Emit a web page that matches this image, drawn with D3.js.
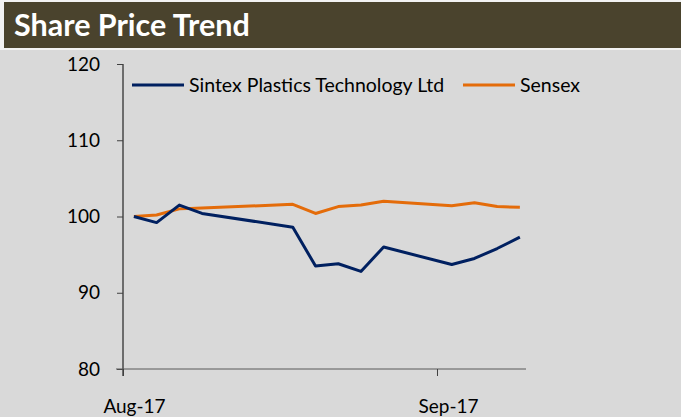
<!DOCTYPE html>
<html>
<head>
<meta charset="utf-8">
<script src="https://cdn.jsdelivr.net/npm/d3@7"></script>
<style>
  body { margin: 0; background: #d9d9d9; }
  svg { display: block; font-family: Lato, "Open Sans", sans-serif; }
</style>
</head>
<body>
<div id="chart"></div>
<script>
// chart data
const sessions = [0, 1, 2, 3, 7, 8, 9, 10, 11, 14, 15, 16, 17];
const sintex = [100, 99.2, 101.5, 100.4, 98.6, 93.5, 93.8, 92.8, 96.0, 93.7, 94.5, 95.8, 97.3];
const sensex = [100, 100.2, 101.0, 101.1, 101.6, 100.4, 101.3, 101.5, 102.0, 101.4, 101.8, 101.3, 101.2];
const seriesNames = ["Sintex Plastics Technology Ltd", "Sensex"];
const yTicks = [80, 90, 100, 110, 120];
const xTickPos = [-0.48, 13.35];
const xTickLabels = ["Aug-17", "Sep-17"];

(function() {
  const W = 681, H = 417;
  const svg = d3.select("#chart").append("svg")
    .attr("width", W)
    .attr("height", H);

  // background + header band
  svg.append("rect").attr("width", W).attr("height", H).attr("fill", "#d9d9d9");
  svg.append("rect").attr("width", W).attr("height", 50).attr("fill", "#f2f2f2");
  svg.append("rect")
    .attr("x", 4).attr("y", 2)
    .attr("width", W - 4).attr("height", 46)
    .attr("fill", "#4a432d");
  svg.append("text")
    .attr("x", 14).attr("y", 36)
    .attr("fill", "#fff")
    .style("font-size", "30.5px")
    .style("font-weight", "bold")
    .text("Share Price Trend");

  const x = d3.scaleLinear().domain([-0.48, 17.27]).range([123, 526]);
  const y = d3.scaleLinear().domain([80, 120]).range([369, 64]);

  // y axis
  const yAxis = svg.append("g")
    .attr("transform", `translate(${x.range()[0]},0)`)
    .call(d3.axisLeft(y).tickValues(yTicks).tickSize(6).tickPadding(17));
  yAxis.select(".domain").attr("stroke", "#000").attr("d", `M0,${y(120)}V${y(80) + 7}`);
  yAxis.selectAll(".tick line").attr("stroke", "#404040");
  yAxis.selectAll(".tick text")
    .attr("fill", "#000")
    .style("font-size", "19px")
    .style("font-family", "Lato");

  // x axis
  const xAxis = svg.append("g")
    .attr("transform", `translate(0,${y(80)})`)
    .call(d3.axisBottom(x).tickValues(xTickPos).tickSize(7).tickFormat((d, i) => xTickLabels[i]).tickPadding(24));
  xAxis.select(".domain").attr("stroke", "#595959").attr("d", `M${x.range()[0] - 7},0H${x.range()[1]}`);
  xAxis.selectAll(".tick line").attr("stroke", "#404040");
  xAxis.selectAll(".tick text")
    .attr("dx", 11)
    .attr("fill", "#000")
    .style("font-size", "19px")
    .style("font-family", "Lato");

  // lines
  const colors = ["#002060", "#e46c0a"];
  const seriesData = [sintex, sensex];
  const line = d3.line()
    .x((d, i) => x(sessions[i]))
    .y(d => y(d));

  svg.selectAll("path.series")
    .data([seriesData[1], seriesData[0]])
    .join("path")
    .attr("class", "series")
    .attr("d", line)
    .attr("fill", "none")
    .attr("stroke", (d, i) => colors[1 - i])
    .attr("stroke-width", 3)
    .attr("stroke-linejoin", "round");

  // legend
  const legendPos = [{ x0: 132, tx: 189 }, { x0: 463, tx: 520 }];
  const legend = svg.append("g").attr("transform", "translate(0,85)");
  const item = legend.selectAll("g")
    .data(seriesNames)
    .join("g")
    .attr("transform", (d, i) => `translate(${legendPos[i].x0},0)`);
  item.append("line")
    .attr("x1", 0).attr("x2", 52)
    .attr("stroke", (d, i) => colors[i])
    .attr("stroke-width", 3);
  item.append("text")
    .attr("x", 57)
    .attr("dy", "0.35em")
    .style("font-size", "19.5px")
    .attr("fill", "#000")
    .text(d => d);
})();
</script>
</body>
</html>
